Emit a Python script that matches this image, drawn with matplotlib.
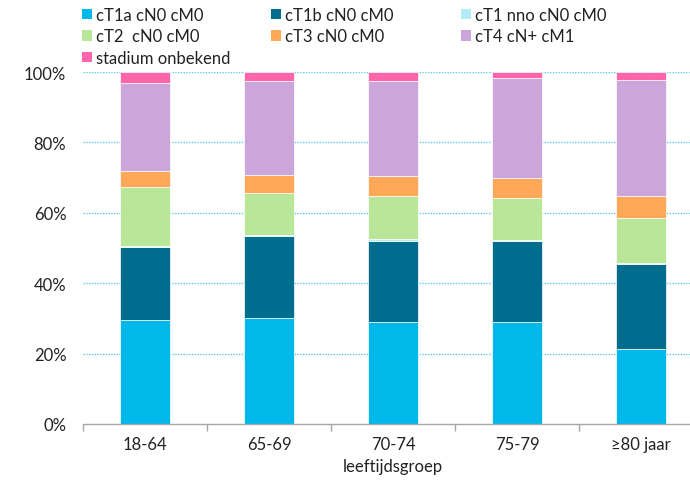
import matplotlib.pyplot as plt
import numpy as np
from matplotlib.patches import Patch

plt.rcParams["font.family"] = ["Lato", "DejaVu Sans"]

groups = ["18-64", "65-69", "70-74", "75-79", "≥80 jaar"]
stages = [
    "cT1a cN0 cM0",
    "cT1b cN0 cM0",
    "cT1 nno cN0 cM0",
    "cT2  cN0 cM0",
    "cT3 cN0 cM0",
    "cT4 cN+ cM1",
    "stadium onbekend",
]
colors = ["#00B8EA", "#006C8E", "#B4ECFA", "#B8E79A", "#FFA858", "#CCA6DB", "#FF66AA"]

# percentages per age group, bottom to top
ct1a = [29.6, 30.2, 28.9, 28.9, 21.2]
ct1b = [20.8, 23.1, 23.2, 23.2, 24.2]
ct1_nno = [0.2, 0.4, 0.4, 0.3, 0.4]
ct2 = [16.8, 11.9, 12.3, 11.8, 12.7]
ct3 = [4.4, 5.1, 5.7, 5.8, 6.2]
ct4 = [25.2, 26.8, 26.9, 28.3, 33.0]
unknown = [3.0, 2.5, 2.6, 1.7, 2.3]
series = [ct1a, ct1b, ct1_nno, ct2, ct3, ct4, unknown]

text_color = "#222222"
fig = plt.figure(figsize=(6.9, 4.85), dpi=100)
ax = fig.add_axes([83 / 690, 60 / 485, 620 / 690, 352 / 485])

x = np.arange(len(groups))
bottom = np.zeros(len(groups))
for values, color in zip(series, colors):
    ax.bar(x, values, width=0.4, bottom=bottom, color=color,
           edgecolor="white", linewidth=0.5, zorder=2)
    bottom += np.array(values)

ax.set_xlim(-0.5, len(groups) - 0.5)
ax.set_ylim(0, 100)
ax.set_yticks(np.arange(0, 101, 20))
ax.set_yticklabels([f"{v}%" for v in range(0, 101, 20)])
ax.set_xticks(x)
ax.set_xticklabels(groups)
ax.set_xticks(np.arange(-0.5, len(groups)), minor=True)
ax.tick_params(axis="x", which="major", length=0, pad=9, labelsize=12, colors=text_color)
ax.tick_params(axis="x", which="minor", length=5, color="#A6A6A6", width=1)
ax.tick_params(axis="y", length=0, pad=12, labelsize=12, colors=text_color)
ax.set_xlabel("leeftijdsgroep", fontsize=12, color=text_color, labelpad=4)

for y in range(20, 101, 20):
    ax.axhline(y, color="#5CCBEF", linestyle=(0, (1, 1)), linewidth=1, zorder=1)

for side in ["left", "right", "top"]:
    ax.spines[side].set_visible(False)
ax.spines["bottom"].set_color("#A6A6A6")
ax.spines["bottom"].set_linewidth(1)

# legend: three columns placed separately so they line up like the original
columns = [[0, 3, 6], [1, 4], [2, 5]]
column_x = [82, 271, 461]
for idx, cx in zip(columns, column_x):
    fig.legend([Patch(facecolor=colors[i]) for i in idx], [stages[i] for i in idx],
               loc="upper left", bbox_to_anchor=(cx / 690, 1 - 8 / 485),
               frameon=False, fontsize=12, handlelength=0.6, handleheight=0.6,
               handletextpad=0.25, labelspacing=0.32, labelcolor=text_color,
               borderpad=0, borderaxespad=0)

fig.savefig("out.png", dpi=100)
